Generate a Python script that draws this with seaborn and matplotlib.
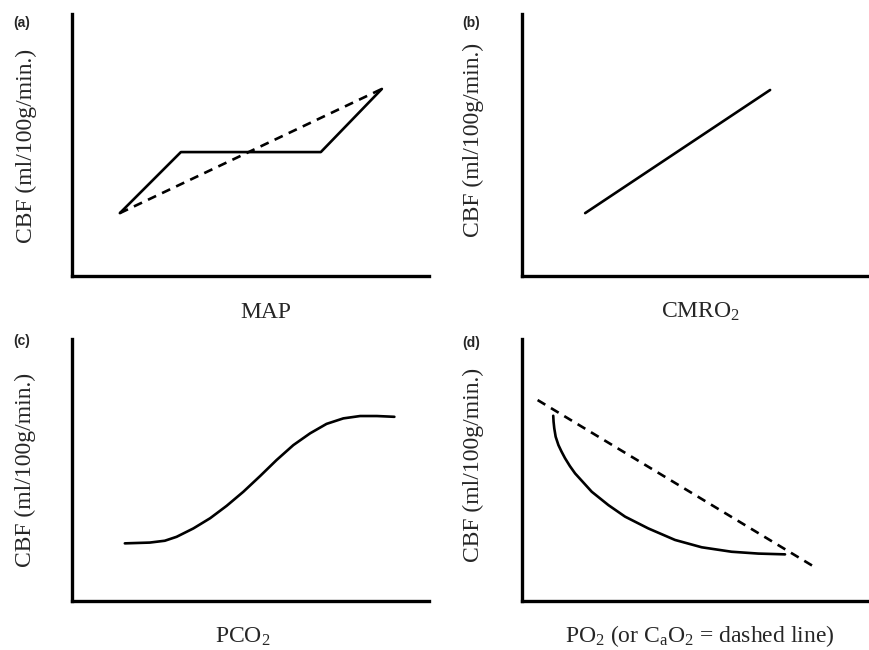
import matplotlib
matplotlib.use("Agg")
import matplotlib.pyplot as plt
import seaborn as sns

# Panel (a): CBF vs MAP (autoregulation) -- solid plateau, dashed passive line
map_x = [13.4, 30.5, 69.7, 86.8]
map_cbf = [24.0, 47.3, 47.3, 71.4]
map_passive_x = [13.4, 86.8]
map_passive_cbf = [24.0, 71.4]

# Panel (b): CBF vs CMRO2
cmro2_x = [18.2, 71.5]
cmro2_cbf = [24.0, 71.0]

# Panel (c): CBF vs PCO2 (sigmoid)
pco2_x = [14.8, 21.8, 26.0, 29.3, 34.0, 38.7, 43.3, 48.0, 52.7, 57.3, 62.0,
          66.7, 71.3, 76.0, 80.7, 85.4, 90.3]
pco2_cbf = [22.0, 22.3, 23.0, 24.5, 27.7, 31.6, 36.3, 41.7, 47.7, 53.8, 59.5,
            64.0, 67.6, 69.7, 70.6, 70.6, 70.3]

# Panel (d): CBF vs PO2 (solid) and CaO2 (dashed)
po2_x = [9.0, 9.1, 9.3, 9.7, 10.5, 11.4, 12.4, 13.8, 15.3, 17.7, 20.1,
         24.9, 29.7, 36.4, 44.1, 51.8, 60.4, 68.1, 75.8]
po2_cbf = [70.7, 68.4, 65.9, 62.7, 59.5, 57.0, 54.5, 51.5, 48.7, 45.2, 41.7,
           36.6, 32.2, 27.7, 23.3, 20.5, 18.8, 18.1, 17.8]
cao2_x = [4.5, 84.9]
cao2_cbf = [76.7, 12.5]

panel_tags = ["(a)", "(b)", "(c)", "(d)"]
x_labels = ["MAP", "CMRO$_2$", "PCO$_2$", "PO$_2$ (or C$_\\mathrm{a}$O$_2$ = dashed line)"]
y_label = "CBF (ml/100g/min.)"

sns.set_style("white")
plt.rcParams["font.family"] = ["Liberation Serif", "DejaVu Serif"]
plt.rcParams["mathtext.fontset"] = "custom"
plt.rcParams["mathtext.rm"] = "Liberation Serif"
plt.rcParams["mathtext.it"] = "Liberation Serif:italic"

W, H = 869, 650
fig = plt.figure(figsize=(W / 100, H / 100), dpi=100)

# axes boxes in pixels: (left, right, top, bottom)
boxes = [(72, 429, 14, 276), (522, 869, 14, 276),
         (72, 429, 339, 601), (522, 869, 339, 601)]
tag_pos = [(13, 23), (462, 23), (13, 341), (462, 343)]
ylab_pos = [(26, 146), (473, 140), (25, 470), (473, 465)]
xlab_pos = [(266, 312), (701, 312), (243, 637), (700, 636)]

axes = []
for (l, r, t, b) in boxes:
    ax = fig.add_axes([l / W, 1 - b / H, (r - l) / W, (b - t) / H])
    ax.set_xlim(0, 100)
    ax.set_ylim(0, 100)
    ax.set_xticks([])
    ax.set_yticks([])
    for side in ["top", "right"]:
        ax.spines[side].set_visible(False)
    for side in ["left", "bottom"]:
        ax.spines[side].set_linewidth(2.4)
        ax.spines[side].set_color("black")
        ax.spines[side].set_capstyle("projecting")
    ax.patch.set_alpha(0)
    axes.append(ax)

line_kw = dict(color="black", linewidth=1.9, sort=False, estimator=None)
dash_kw = dict(color="black", linewidth=1.9, sort=False, estimator=None,
               linestyle=(0, (3.4, 2.5)))

sns.lineplot(x=map_x, y=map_cbf, ax=axes[0], **line_kw)
sns.lineplot(x=map_passive_x, y=map_passive_cbf, ax=axes[0], **dash_kw)
sns.lineplot(x=cmro2_x, y=cmro2_cbf, ax=axes[1], **line_kw)
sns.lineplot(x=pco2_x, y=pco2_cbf, ax=axes[2], **line_kw)
sns.lineplot(x=po2_x, y=po2_cbf, ax=axes[3], **line_kw)
sns.lineplot(x=cao2_x, y=cao2_cbf, ax=axes[3], **dash_kw)

for i in range(4):
    tx, ty = tag_pos[i]
    fig.text(tx / W, 1 - ty / H, panel_tags[i], family="Liberation Sans",
             weight="bold", fontsize=10, ha="left", va="center")
    yx, yy = ylab_pos[i]
    fig.text(yx / W, 1 - yy / H, y_label, fontsize=17, rotation=90,
             ha="center", va="center")
    xx, xy = xlab_pos[i]
    fig.text(xx / W, 1 - xy / H, x_labels[i], fontsize=17,
             ha="center", va="center")

fig.savefig("out.png", dpi=100)
